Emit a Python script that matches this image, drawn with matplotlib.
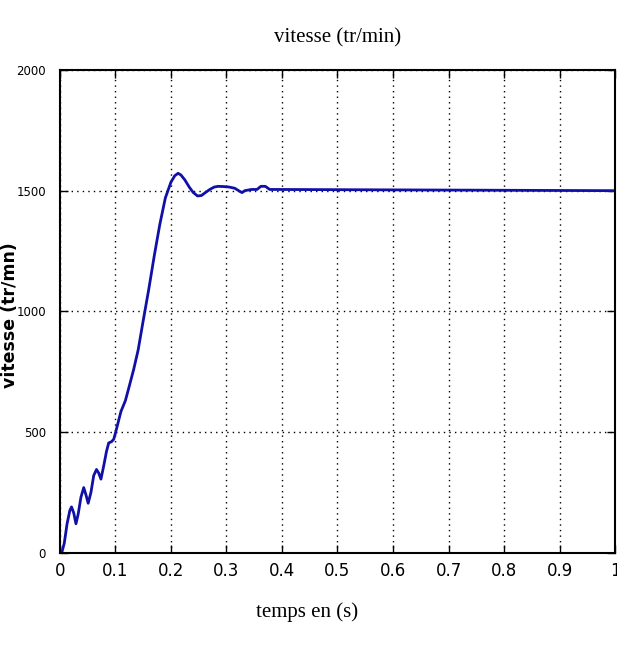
import matplotlib
matplotlib.use("Agg")
import matplotlib.pyplot as plt

t = [0, 0.004, 0.008, 0.013, 0.018, 0.021, 0.025, 0.029, 0.033, 0.038, 0.043,
     0.047, 0.051, 0.056, 0.061, 0.066, 0.070, 0.074, 0.079, 0.084, 0.088,
     0.093, 0.097, 0.100, 0.105, 0.110, 0.118, 0.125, 0.133, 0.141, 0.150,
     0.160, 0.170, 0.180, 0.190, 0.200, 0.207, 0.213, 0.218, 0.225, 0.233,
     0.240, 0.248, 0.255, 0.262, 0.270, 0.278, 0.285, 0.295, 0.305, 0.315,
     0.322, 0.328, 0.333, 0.345, 0.355, 0.362, 0.370, 0.378, 0.390, 1.0]
vitesse = [0, 5, 40, 120, 175, 190, 165, 120, 160, 230, 270,
           240, 205, 250, 320, 345, 330, 305, 360, 420, 455,
           460, 470, 495, 540, 585, 630, 690, 760, 840, 960,
           1090, 1230, 1360, 1470, 1535, 1562, 1572, 1565, 1545, 1515,
           1493, 1478, 1480, 1492, 1505, 1515, 1518, 1517, 1515, 1510,
           1500, 1492, 1500, 1505, 1505, 1518, 1518, 1505, 1505, 1500]
xticks = [0, 0.1, 0.2, 0.3, 0.4, 0.5, 0.6, 0.7, 0.8, 0.9, 1]
xticklabels = ["0", "0.1", "0.2", "0.3", "0.4", "0.5", "0.6", "0.7", "0.8", "0.9", "1"]
yticks = [0, 500, 1000, 1500, 2000]
yticklabels = ["0", "500", "1000", "1500", "2000"]

narrow = ["DejaVu Sans Condensed", "DejaVu Sans"]
serif = ["DejaVu Serif Condensed", "Liberation Serif", "DejaVu Serif"]

fig = plt.figure(figsize=(6.17, 6.48), dpi=100)
ax = fig.add_axes([0.097, 0.147, 0.900, 0.745])
ax.plot(t, vitesse, color="#1010a8", linewidth=2.0)
ax.set_xlim(0, 1)
ax.set_ylim(0, 2000)
ax.set_xticks(xticks)
ax.set_xticklabels(xticklabels, family=narrow, fontsize=12)
ax.set_yticks(yticks)
ax.set_yticklabels(yticklabels, family=narrow, fontsize=8.5)
ax.tick_params(axis="x", pad=7)
ax.tick_params(axis="y", pad=10)
ax.tick_params(direction="in", top=True, right=True, length=6, width=1)
ax.grid(True, color="black", linestyle=(0, (1, 3)), linewidth=1)
for s in ax.spines.values():
    s.set_linewidth(1.5)
ax.set_title("vitesse (tr/min)", family=serif, fontsize=15, pad=20)
fig.text(0.497, 0.055, "temps en (s)", family=serif, fontsize=15, ha="center", va="center")
fig.text(0.002, 0.513, "vitesse (tr/mn)", fontweight="bold", fontsize=12.5,
         rotation=90, ha="left", va="center", family="DejaVu Sans")
fig.savefig("out.png", dpi=100)
